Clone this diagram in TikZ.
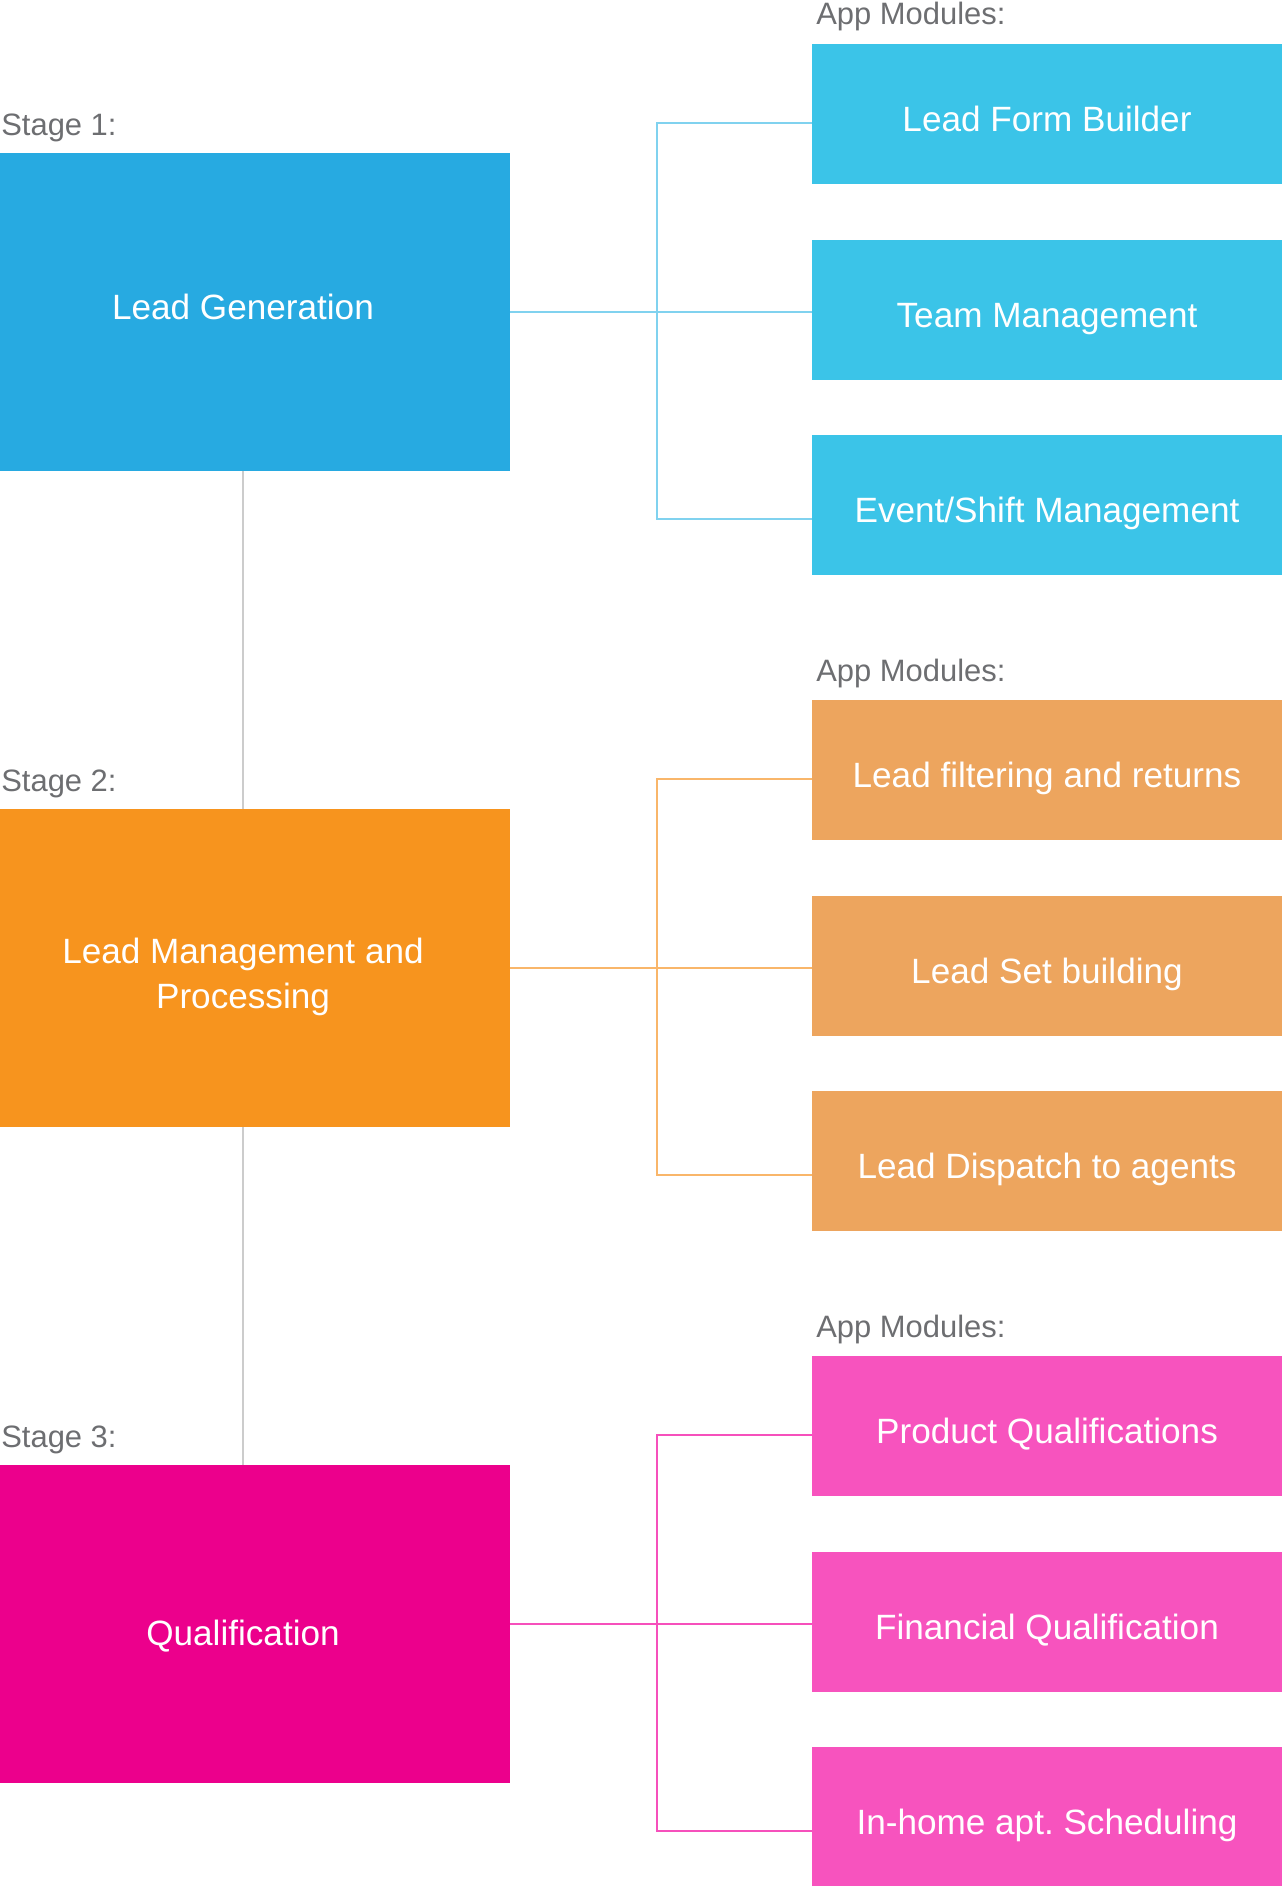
\documentclass[tikz,border=0pt]{standalone}
\usepackage{fontspec}
\setmainfont{Liberation Sans}
\usepackage{tikz}
\usetikzlibrary{positioning,calc}
\frenchspacing

\definecolor{stageblue}{HTML}{27AAE1}
\definecolor{modblue}{HTML}{3BC4E8}
\definecolor{linkblue}{HTML}{80D2EF}
\definecolor{stageorange}{HTML}{F7941E}
\definecolor{modorange}{HTML}{EDA55E}
\definecolor{linkorange}{HTML}{F9B66A}
\definecolor{stagepink}{HTML}{EC008C}
\definecolor{modpink}{HTML}{F753BE}
\definecolor{linkpink}{HTML}{F650BC}
\definecolor{labelgray}{HTML}{6D6E71}
\definecolor{spine}{HTML}{CCCCCC}

\begin{document}
\begin{tikzpicture}[
    x=0.02cm, y=-0.02cm,
    stagebox/.style={minimum width=10.68cm, minimum height=6.36cm, align=center, text=white, inner sep=0pt,
        text height=0.62cm, text depth=0cm, font=\fontsize{20}{25.3}\selectfont},
    modbox/.style={minimum width=9.4cm, minimum height=2.8cm, align=center, text=white, inner sep=0pt,
        text height=0.7cm, text depth=0cm, font=\fontsize{20}{25.3}\selectfont},
    lbl/.style={anchor=base west, inner sep=0pt, text=labelgray, font=\fontsize{17.6}{20}\selectfont},
    link/.style={line width=1.1pt},
    spineline/.style={line width=1.1pt, spine}
]
\useasboundingbox (0,0) rectangle (1282,1886);

\node[stagebox, fill=stageblue, text height=0.3cm] (s1) at (243,312) {Lead Generation};
\node[stagebox, fill=stageorange, text height=1.6cm] (s2) at (243,968) {Lead Management and\\Processing};
\node[stagebox, fill=stagepink, text height=0.86cm] (s3) at (243,1624) {Qualification};

\node[lbl] (l1) at (1,135) {Stage 1:};
\node[lbl] (l2) at (1,791) {Stage 2:};
\node[lbl] (l3) at (1,1447) {Stage 3:};

\node[lbl] (a1) at (816,25) {App Modules:};
\node[lbl] (a2) at (816,681) {App Modules:};
\node[lbl] (a3) at (816,1337) {App Modules:};

\node[modbox, fill=modblue] (m11) at (1047,114) {Lead Form Builder};
\node[modbox, fill=modblue] (m12) at (1047,310) {Team Management};
\node[modbox, fill=modblue] (m13) at (1047,505) {Event/Shift Management};
\node[modbox, fill=modorange] (m21) at (1047,770) {Lead filtering and returns};
\node[modbox, fill=modorange] (m22) at (1047,966) {Lead Set building};
\node[modbox, fill=modorange] (m23) at (1047,1161) {Lead Dispatch to agents};
\node[modbox, fill=modpink] (m31) at (1047,1426) {Product Qualifications};
\node[modbox, fill=modpink] (m32) at (1047,1622) {Financial Qualification};
\node[modbox, fill=modpink] (m33) at (1047,1817) {In-home apt. Scheduling};

\coordinate (b1) at (657,313);
\coordinate (b2) at (657,969);
\coordinate (b3) at (657,1625);

\draw[spineline] (s1.south) -- (s2.north);
\draw[spineline] (s2.south) -- (s3.north);

\draw[link, linkblue] (s1.east) -- (s1.east -| m12.west);
\draw[link, linkblue] ([yshift=-0.18cm]m11.west) -| (b1) |- ([yshift=-0.28cm]m13.west);
\draw[link, linkorange] (s2.east) -- (s2.east -| m22.west);
\draw[link, linkorange] ([yshift=-0.18cm]m21.west) -| (b2) |- ([yshift=-0.28cm]m23.west);
\draw[link, linkpink] (s3.east) -- (s3.east -| m32.west);
\draw[link, linkpink] ([yshift=-0.18cm]m31.west) -| (b3) |- ([yshift=-0.28cm]m33.west);
\end{tikzpicture}
\end{document}
